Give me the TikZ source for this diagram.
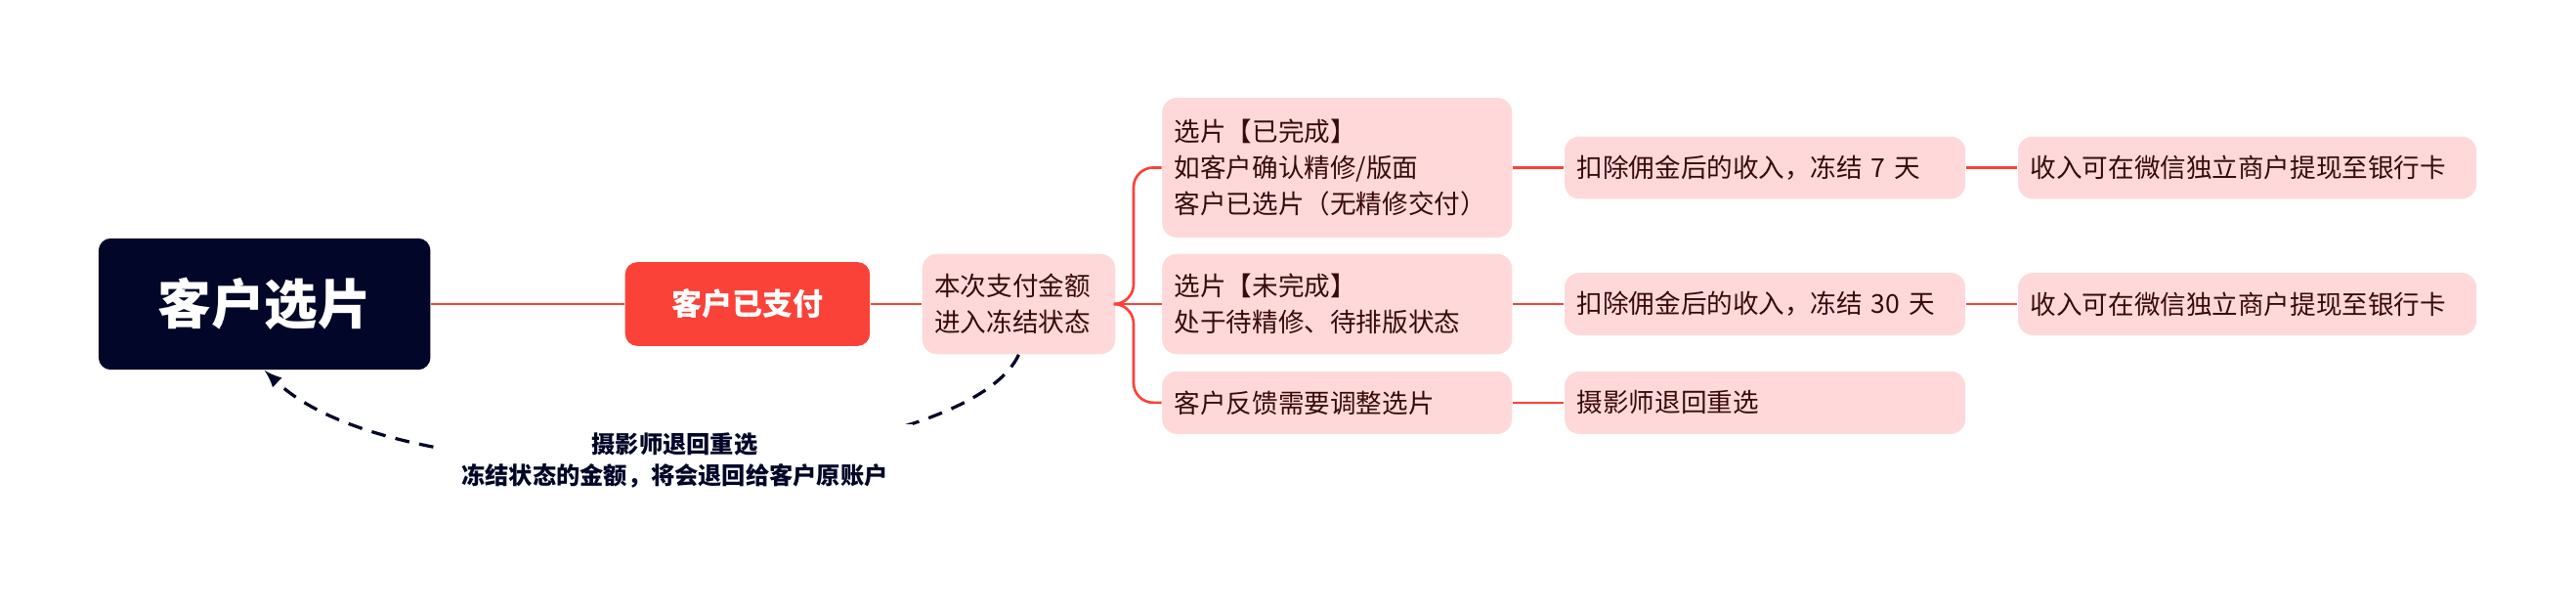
\documentclass[tikz,border=0pt]{standalone}
\usepackage{fontspec}
\setmainfont{Noto Sans CJK SC}
\usetikzlibrary{positioning}
\definecolor{navy}{HTML}{020628}
\definecolor{redbox}{HTML}{FA4238}
\definecolor{pinkbox}{HTML}{FFD9D9}
\definecolor{leaftext}{HTML}{3A0A0A}
\tikzset{
  leaf/.style={rounded corners=1.8mm, fill=pinkbox, text=leaftext, font=\fontsize{9}{12.5}\selectfont,
    align=left, anchor=west, inner xsep=1.5mm, inner ysep=0pt, minimum height=#1},
  leaf/.default=7.6mm,
  link/.style={redbox, line width=0.9pt}
}
\begin{document}
\begin{tikzpicture}[x=0.2mm,y=-0.2mm]
\useasboundingbox (0,0) rectangle (1568,372);
\node[rounded corners=1.5mm, fill=navy, text=white, font=\fontsize{18.5}{22}\selectfont\bfseries,
  minimum width=40.4mm, minimum height=16mm] (root) at (161,185) {客户选片};
\node[rounded corners=1.5mm, fill=redbox, text=white, font=\fontsize{10.5}{12}\selectfont\bfseries,
  minimum width=29.8mm, minimum height=10.2mm] (paid) at (455,185) {客户已支付};
\node[leaf=12.2mm, text width=20.5mm] (frozen) at (561,185) {本次支付金额\\进入冻结状态};
\node[leaf=17mm, text width=39.6mm] (done) at (707,102) {选片【已完成】\\如客户确认精修/版面\\客户已选片（无精修交付）};
\node[leaf=12.2mm, text width=39.6mm] (todo) at (707,185) {选片【未完成】\\处于待精修、待排版状态};
\node[leaf, text width=39.6mm] (adjust) at (707,245) {客户反馈需要调整选片};
\node[leaf, text width=45.8mm] (fee7) at (952,102) {扣除佣金后的收入，冻结 7 天};
\node[leaf, text width=45.8mm] (fee30) at (952,185) {扣除佣金后的收入，冻结 30 天};
\node[leaf, text width=45.8mm] (back) at (952,245) {摄影师退回重选};
\node[leaf, text width=52.8mm] (cash7) at (1228,102) {收入可在微信独立商户提现至银行卡};
\node[leaf, text width=52.8mm] (cash30) at (1228,185) {收入可在微信独立商户提现至银行卡};
% connectors
\draw[link] (root) -- (paid);
\draw[link] (paid) -- (frozen);
\draw[link, rounded corners=2.4mm] (frozen.east) -- (690,185) |- (done.west);
\draw[link, rounded corners=2.4mm] (frozen.east) -- (690,185) |- (adjust.west);
\draw[link] (frozen.east) -- (todo.west);
\draw[link] (done) -- (fee7);
\draw[link] (todo) -- (fee30);
\draw[link] (adjust) -- (back);
\draw[link] (fee7) -- (cash7);
\draw[link] (fee30) -- (cash30);
\draw[navy, line width=1.1pt, dash pattern=on 5pt off 3.5pt, -latex]
  (frozen.south) .. controls (585,290) and (250,310) ..
  node[fill=white, text=navy, font=\fontsize{8.2}{11}\selectfont\bfseries, align=center,
    inner xsep=3mm, inner ysep=1mm] (note) {摄影师退回重选\\冻结状态的金额，将会退回给客户原账户}
  (root.south);
\end{tikzpicture}
\end{document}
